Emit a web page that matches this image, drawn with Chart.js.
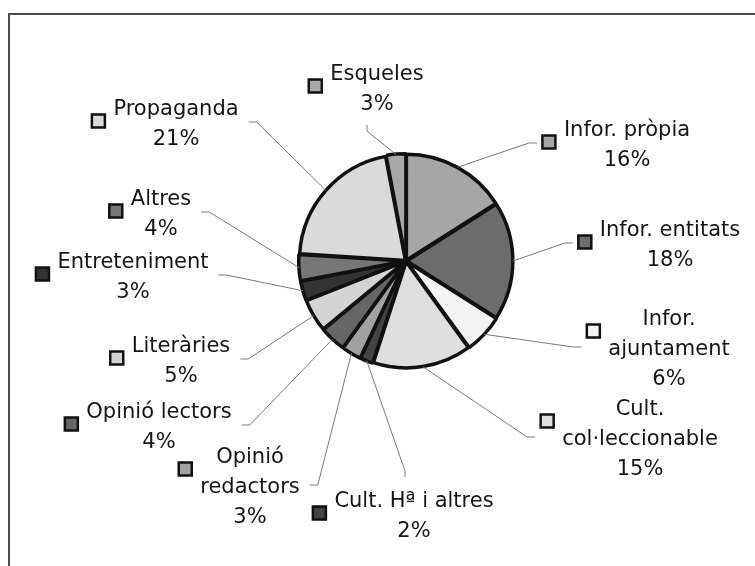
<!DOCTYPE html>
<html>
<head>
<meta charset="utf-8">
<script src="https://cdn.jsdelivr.net/npm/chart.js@4"></script>
<style>
  html, body { margin: 0; padding: 0; background: #fff; }
  #wrap { position: relative; width: 755px; height: 566px; overflow: hidden; }
  #frame { position: absolute; left: 8px; top: 13px; width: 800px; height: 600px;
           border-left: 2px solid #4a4a4a; border-top: 2px solid #4a4a4a; }
  #pie { position: absolute; left: 0; top: 0; width: 755px; height: 566px; }
</style>
</head>
<body>
<div id="wrap">
  <div id="frame"></div>
  <canvas id="pie"></canvas>
</div>
<script>
// Data (clockwise from 12 o'clock)
const categories = [
    ['Infor. pròpia'],
    ['Infor. entitats'],
    ['Infor.', 'ajuntament'],
    ['Cult.', 'col·leccionable'],
    ['Cult. Hª i altres'],
    ['Opinió', 'redactors'],
    ['Opinió lectors'],
    ['Literàries'],
    ['Entreteniment'],
    ['Altres'],
    ['Propaganda'],
    ['Esqueles']
];
const values = [16, 18, 6, 15, 2, 3, 4, 5, 3, 4, 21, 3];
const fills = ['#a6a6a6', '#6c6c6c', '#f3f3f3', '#dedede', '#444444', '#a2a2a2',
               '#666666', '#d4d4d4', '#333333', '#777777', '#dadada', '#a8a8a8'];

// Label layout: block centre x, first baseline y (relative to pie centre), side the leader line meets
const labelPos = [
    [221, -125, 'l'], [264, -25, 'l'], [263, 64, 'l'], [234, 154, 'l'],
    [8, 246, 't'], [-156, 202, 'r'], [-247, 157, 'r'], [-225, 91, 'r'],
    [-273, 7, 'r'], [-245, -56, 'r'], [-230, -146, 'r'], [-29, -181, 'b']
];
const LINE_H = 30;

const outsideLabels = {
    id: 'outsideLabels',
    afterDatasetsDraw(chart) {
        const ctx = chart.ctx;
        const meta = chart.getDatasetMeta(0);
        ctx.save();
        ctx.font = '21px "DejaVu Sans"';
        ctx.textAlign = 'center';
        ctx.textBaseline = 'alphabetic';

        meta.data.forEach((arc, i) => {
            const p = arc.getProps(['x', 'y', 'startAngle', 'endAngle', 'outerRadius']);
            const mid = (p.startAngle + p.endAngle) / 2;
            const ax = p.x + Math.cos(mid) * (p.outerRadius + 1);
            const ay = p.y + Math.sin(mid) * (p.outerRadius + 1);

            const [dx, dy, side] = labelPos[i];
            const cx = p.x + dx, y0 = p.y + dy;
            const lines = [...categories[i], values[i] + '%'];
            const w = Math.max(...lines.map(t => ctx.measureText(t).width));
            const left = cx - w / 2, right = cx + w / 2;
            const lastBase = y0 + (lines.length - 1) * LINE_H;
            const top = y0 - 16, bottom = lastBase + 4;
            const midY = (top + lastBase) / 2;

            // leader line end + short hook
            let ex, ey, hx, hy;
            if (side === 'r') { ex = right + 10; ey = midY; hx = ex + 8; hy = ey; }
            else if (side === 'l') { ex = left - 27; ey = midY; hx = ex - 8; hy = ey; }
            else if (side === 't') { ex = cx - 9; ey = top - 14; hx = ex; hy = ey - 6; }
            else { ex = cx - 10; ey = bottom + 11; hx = ex; hy = ey + 6; }

            ctx.strokeStyle = '#7a7a7a';
            ctx.lineWidth = 1;
            ctx.beginPath();
            ctx.moveTo(ex, ey);
            ctx.lineTo(hx, hy);
            ctx.lineTo(ax, ay);
            ctx.stroke();

            // marker square
            ctx.fillStyle = fills[i];
            ctx.fillRect(left - 21.5, y0 - 0.5, 13, 13);
            ctx.strokeStyle = '#111';
            ctx.lineWidth = 2.5;
            ctx.strokeRect(left - 21.5, y0 - 0.5, 13, 13);

            // text
            ctx.fillStyle = '#151515';
            lines.forEach((t, k) => ctx.fillText(t, cx, y0 + k * LINE_H));
        });
        ctx.restore();
    }
};

new Chart(document.getElementById('pie'), {
    type: 'pie',
    data: {
        labels: categories.map(c => c.join(' ')),
        datasets: [{
            data: values,
            backgroundColor: fills,
            borderColor: '#111',
            borderWidth: 3.5,
            offset: 3
        }]
    },
    options: {
        responsive: true,
        maintainAspectRatio: false,
        animation: false,
        radius: 106,
        layout: { padding: { left: 57, right: 0, top: 0, bottom: 44 } },
        plugins: { legend: { display: false }, tooltip: { enabled: false } }
    },
    plugins: [outsideLabels]
});
</script>
</body>
</html>
